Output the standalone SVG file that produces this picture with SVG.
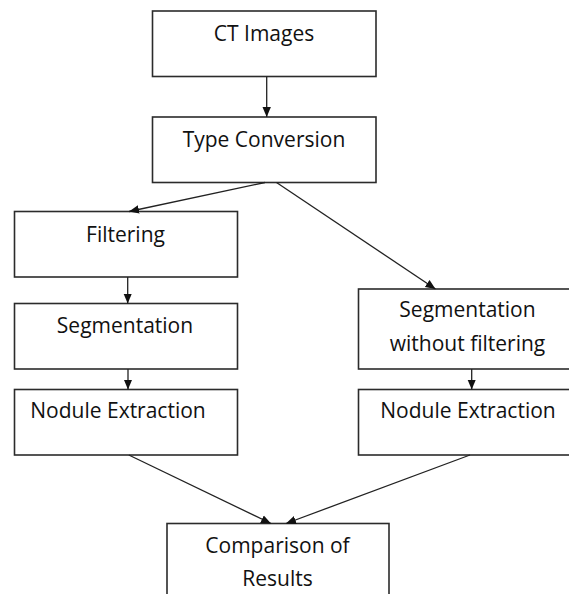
<svg xmlns="http://www.w3.org/2000/svg" width="569" height="594" viewBox="0 0 569 594">
<defs>
<style>
.box{fill:#fff;stroke:#2b2b2b;stroke-width:1.6}
.lbl{font-family:"Open Sans","Liberation Sans",sans-serif;font-size:21px;fill:#111;text-anchor:middle}
.con{stroke:#222;stroke-width:1.3;fill:none;marker-end:url(#ah)}
</style>
<marker id="ah" markerUnits="userSpaceOnUse" markerWidth="10" markerHeight="10" viewBox="0 0 10 10" refX="10" refY="5" orient="auto">
<path d="M0,0.8 L10,5 L0,9.2 Z" fill="#111"/>
</marker>
</defs>
<rect width="569" height="594" fill="#fff"/>
<g id="n-ct"><rect class="box" x="152.5" y="11" width="223.5" height="65.5"/><text class="lbl" x="264" y="41">CT Images</text></g>
<g id="n-type"><rect class="box" x="152.5" y="117" width="223.5" height="65.5"/><text class="lbl" x="264" y="147">Type Conversion</text></g>
<g id="n-filter"><rect class="box" x="14.5" y="211.5" width="223" height="65.5"/><text class="lbl" x="125.5" y="242">Filtering</text></g>
<g id="n-seg"><rect class="box" x="14.5" y="303.5" width="223" height="65.5"/><text class="lbl" x="125" y="333">Segmentation</text></g>
<g id="n-nod1"><rect class="box" x="14.5" y="389.5" width="223" height="65.5"/><text class="lbl" x="118" y="418">Nodule Extraction</text></g>
<g id="n-segnf"><rect class="box" x="358.5" y="289" width="230" height="80"/><text class="lbl" x="467.5" y="317">Segmentation</text><text class="lbl" x="467.5" y="351">without filtering</text></g>
<g id="n-nod2"><rect class="box" x="358.5" y="389.5" width="230" height="65.5"/><text class="lbl" x="468" y="418">Nodule Extraction</text></g>
<g id="n-cmp"><rect class="box" x="167" y="523.5" width="222" height="90"/><text class="lbl" x="277.5" y="553">Comparison of</text><text class="lbl" x="277.5" y="586">Results</text></g>
<g id="connectors">
<line class="con" x1="266.7" y1="76.5" x2="266.7" y2="117"/>
<line class="con" x1="265" y1="182.5" x2="129" y2="211.5"/>
<line class="con" x1="276.5" y1="182.5" x2="435.5" y2="289"/>
<line class="con" x1="127.7" y1="277" x2="127.7" y2="303.5"/>
<line class="con" x1="128" y1="369" x2="128" y2="389.5"/>
<line class="con" x1="471.7" y1="369" x2="471.7" y2="389.5"/>
<line class="con" x1="128.8" y1="455" x2="271" y2="523.5"/>
<line class="con" x1="470" y1="455" x2="286" y2="523.5"/>
</g>
</svg>
